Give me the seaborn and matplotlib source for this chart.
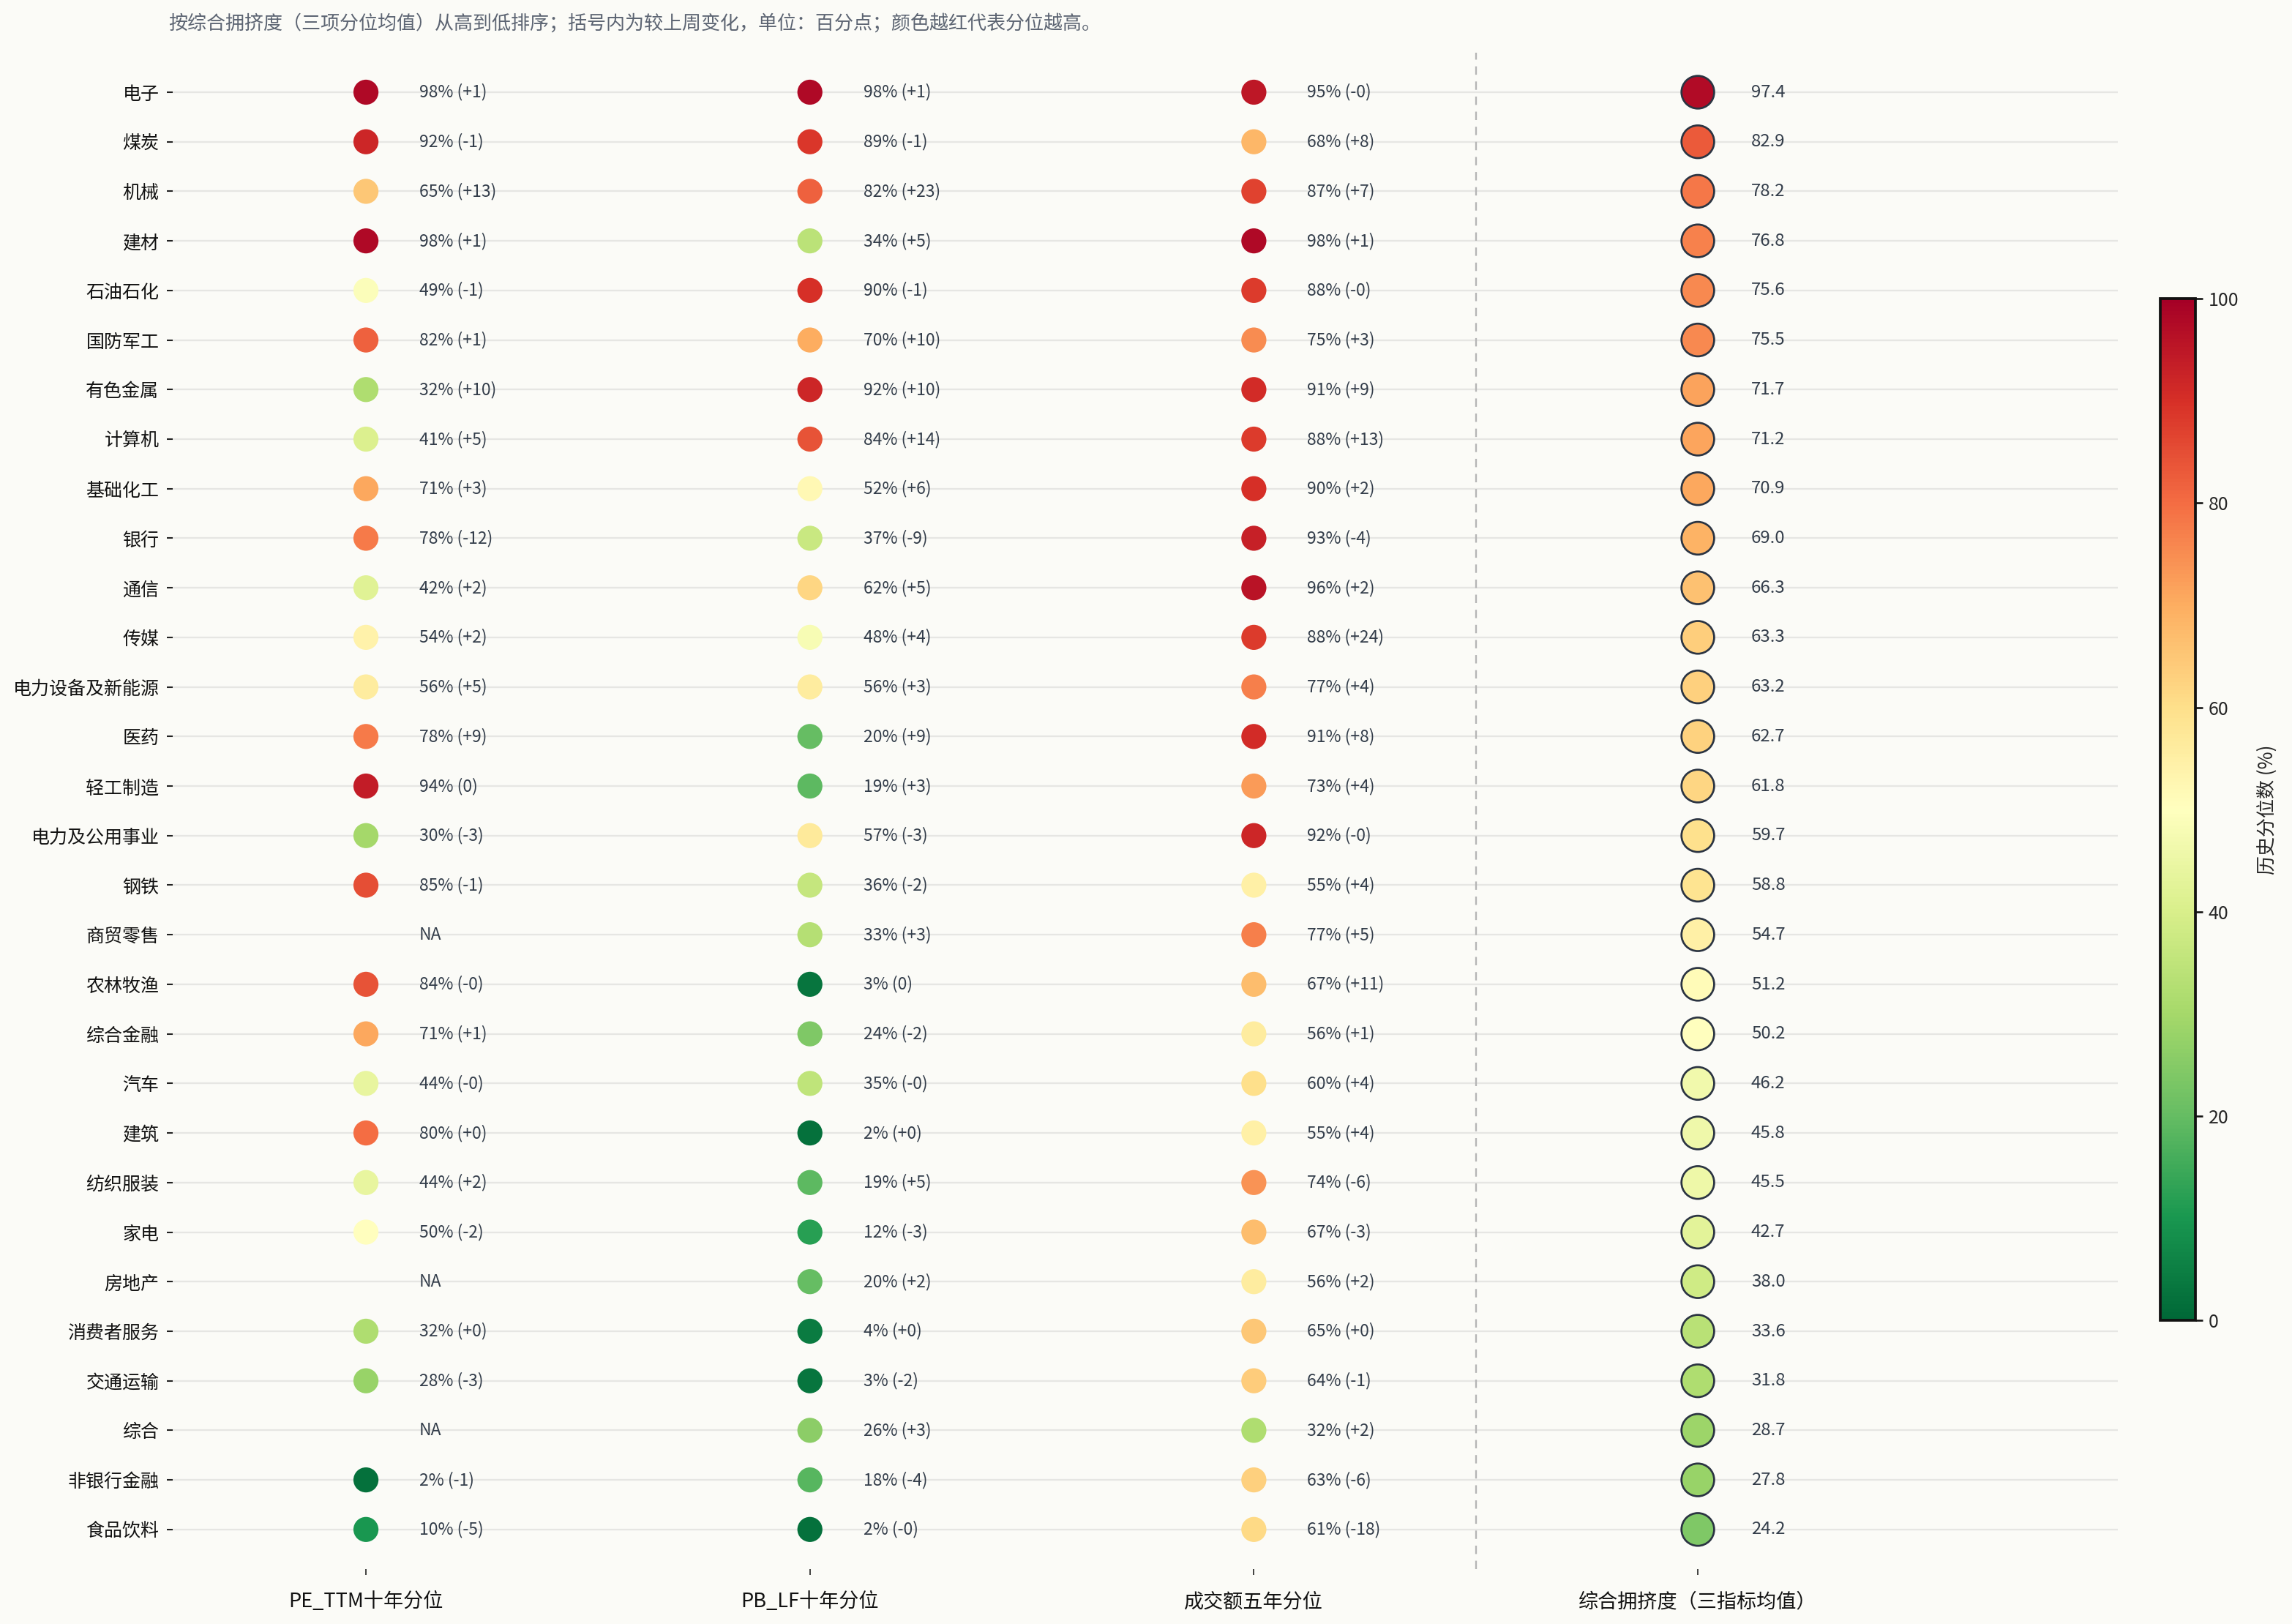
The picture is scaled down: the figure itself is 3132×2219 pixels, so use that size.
import numpy as np
import pandas as pd
import matplotlib
matplotlib.use("Agg")
import matplotlib.pyplot as plt
import seaborn as sns

# 行业（按综合拥挤度从高到低）
industries = ["电子", "煤炭", "机械", "建材", "石油石化", "国防军工", "有色金属", "计算机",
              "基础化工", "银行", "通信", "传媒", "电力设备及新能源", "医药", "轻工制造",
              "电力及公用事业", "钢铁", "商贸零售", "农林牧渔", "综合金融", "汽车", "建筑",
              "纺织服装", "家电", "房地产", "消费者服务", "交通运输", "综合", "非银行金融", "食品饮料"]

metrics = ["PE_TTM十年分位", "PB_LF十年分位", "成交额五年分位", "综合拥挤度（三指标均值）"]

pe = [98, 92, 65, 98, 49, 82, 32, 41, 71, 78, 42, 54, 56, 78, 94,
      30, 85, np.nan, 84, 71, 44, 80, 44, 50, np.nan, 32, 28, np.nan, 2, 10]
pe_chg = ["+1", "-1", "+13", "+1", "-1", "+1", "+10", "+5", "+3", "-12", "+2", "+2", "+5", "+9", "0",
          "-3", "-1", "", "-0", "+1", "-0", "+0", "+2", "-2", "", "+0", "-3", "", "-1", "-5"]

pb = [98, 89, 82, 34, 90, 70, 92, 84, 52, 37, 62, 48, 56, 20, 19,
      57, 36, 33, 3, 24, 35, 2, 19, 12, 20, 4, 3, 26, 18, 2]
pb_chg = ["+1", "-1", "+23", "+5", "-1", "+10", "+10", "+14", "+6", "-9", "+5", "+4", "+3", "+9", "+3",
          "-3", "-2", "+3", "0", "-2", "-0", "+0", "+5", "-3", "+2", "+0", "-2", "+3", "-4", "-0"]

vol = [95, 68, 87, 98, 88, 75, 91, 88, 90, 93, 96, 88, 77, 91, 73,
       92, 55, 77, 67, 56, 60, 55, 74, 67, 56, 65, 64, 32, 63, 61]
vol_chg = ["-0", "+8", "+7", "+1", "-0", "+3", "+9", "+13", "+2", "-4", "+2", "+24", "+4", "+8", "+4",
           "-0", "+4", "+5", "+11", "+1", "+4", "+4", "-6", "-3", "+2", "+0", "-1", "+2", "-6", "-18"]

composite = [97.4, 82.9, 78.2, 76.8, 75.6, 75.5, 71.7, 71.2, 70.9, 69.0, 66.3, 63.3, 63.2, 62.7, 61.8,
             59.7, 58.8, 54.7, 51.2, 50.2, 46.2, 45.8, 45.5, 42.7, 38.0, 33.6, 31.8, 28.7, 27.8, 24.2]

title = "按综合拥挤度（三项分位均值）从高到低排序；括号内为较上周变化，单位：百分点；颜色越红代表分位越高。"

sns.set_theme(style="white")
plt.rcParams['font.family'] = ['Noto Sans CJK SC', 'DejaVu Sans']
plt.rcParams['axes.unicode_minus'] = False

bg = "#fbfbf7"
txt = "#333d4a"
cmap = "RdYlGn_r"

# 长表
rows = []
for vals, chg, m in zip([pe, pb, vol], [pe_chg, pb_chg, vol_chg], metrics[:3]):
    for ind, v, c in zip(industries, vals, chg):
        rows.append({"metric": m, "industry": ind, "value": v, "chg": c})
df = pd.DataFrame(rows)
df["metric"] = pd.Categorical(df["metric"], categories=metrics[:3])
df["industry"] = pd.Categorical(df["industry"], categories=industries)

comp = pd.DataFrame({"metric": metrics[3], "industry": industries, "value": composite})
comp["metric"] = pd.Categorical(comp["metric"], categories=[metrics[3]])
comp["industry"] = pd.Categorical(comp["industry"], categories=industries)

fig = plt.figure(figsize=(20.88, 14.794), dpi=150, facecolor=bg)
ax = fig.add_axes([0.0754, 0.0338, 0.8486, 0.9338])
ax.set_facecolor(bg)

for i in range(len(industries)):
    ax.axhline(i, color="#e6e6e3", lw=1.1, zorder=0)

sns.scatterplot(data=df.dropna(subset=["value"]), x="metric", y="industry", hue="value",
                palette=cmap, hue_norm=(0, 100), s=270, linewidth=0, legend=False,
                ax=ax, zorder=3)
sns.scatterplot(data=comp, x="metric", y="industry", hue="value",
                palette=cmap, hue_norm=(0, 100), s=460, edgecolor="#2b3442", linewidth=1.3,
                legend=False, ax=ax, zorder=3)

# 数值标签
for j, (vals, chg) in enumerate(zip([pe, pb, vol], [pe_chg, pb_chg, vol_chg])):
    for i, (v, c) in enumerate(zip(vals, chg)):
        label = "NA" if np.isnan(v) else f"{v:.0f}% ({c})"
        ax.text(j + 0.12, i, label, va="center", ha="left", fontsize=11, color=txt, zorder=4)
for i, v in enumerate(composite):
    ax.text(3 + 0.12, i, f"{v:.1f}", va="center", ha="left", fontsize=11.5, color=txt, zorder=4)

ax.axvline(2.5, color="#b5b5b5", lw=1.1, ls=(0, (5, 4)), zorder=1)

ax.set_xlim(-0.435, 3.946)
ax.set_ylim(len(industries) - 0.2, -0.8)
ax.set_xlabel("")
ax.set_ylabel("")
for s in ax.spines.values():
    s.set_visible(False)
ax.tick_params(axis="y", left=True, length=4, width=1, color="#222222", labelsize=12, pad=5)
ax.tick_params(axis="x", bottom=True, length=4, width=0.8, color="#222222", labelsize=13, pad=11)
for lab in ax.get_yticklabels():
    lab.set_color("#111111")
for lab in ax.get_xticklabels():
    lab.set_color("#111111")

fig.text(0.0734, 0.9856, title, fontsize=12.5, color="#5c6472", ha="left", va="center")

cax = fig.add_axes([0.9425, 0.187, 0.0153, 0.629])
sm = plt.cm.ScalarMappable(norm=plt.Normalize(0, 100), cmap=cmap)
cb = fig.colorbar(sm, cax=cax)
cb.outline.set_linewidth(1.8)
cb.outline.set_edgecolor("#111111")
cb.set_ticks([0, 20, 40, 60, 80, 100])
cb.ax.tick_params(labelsize=12, length=5, color="#111111")
cb.set_label("历史分位数 (%)", fontsize=12.5, labelpad=12)

fig.savefig("out.png", dpi=150, facecolor=bg)
